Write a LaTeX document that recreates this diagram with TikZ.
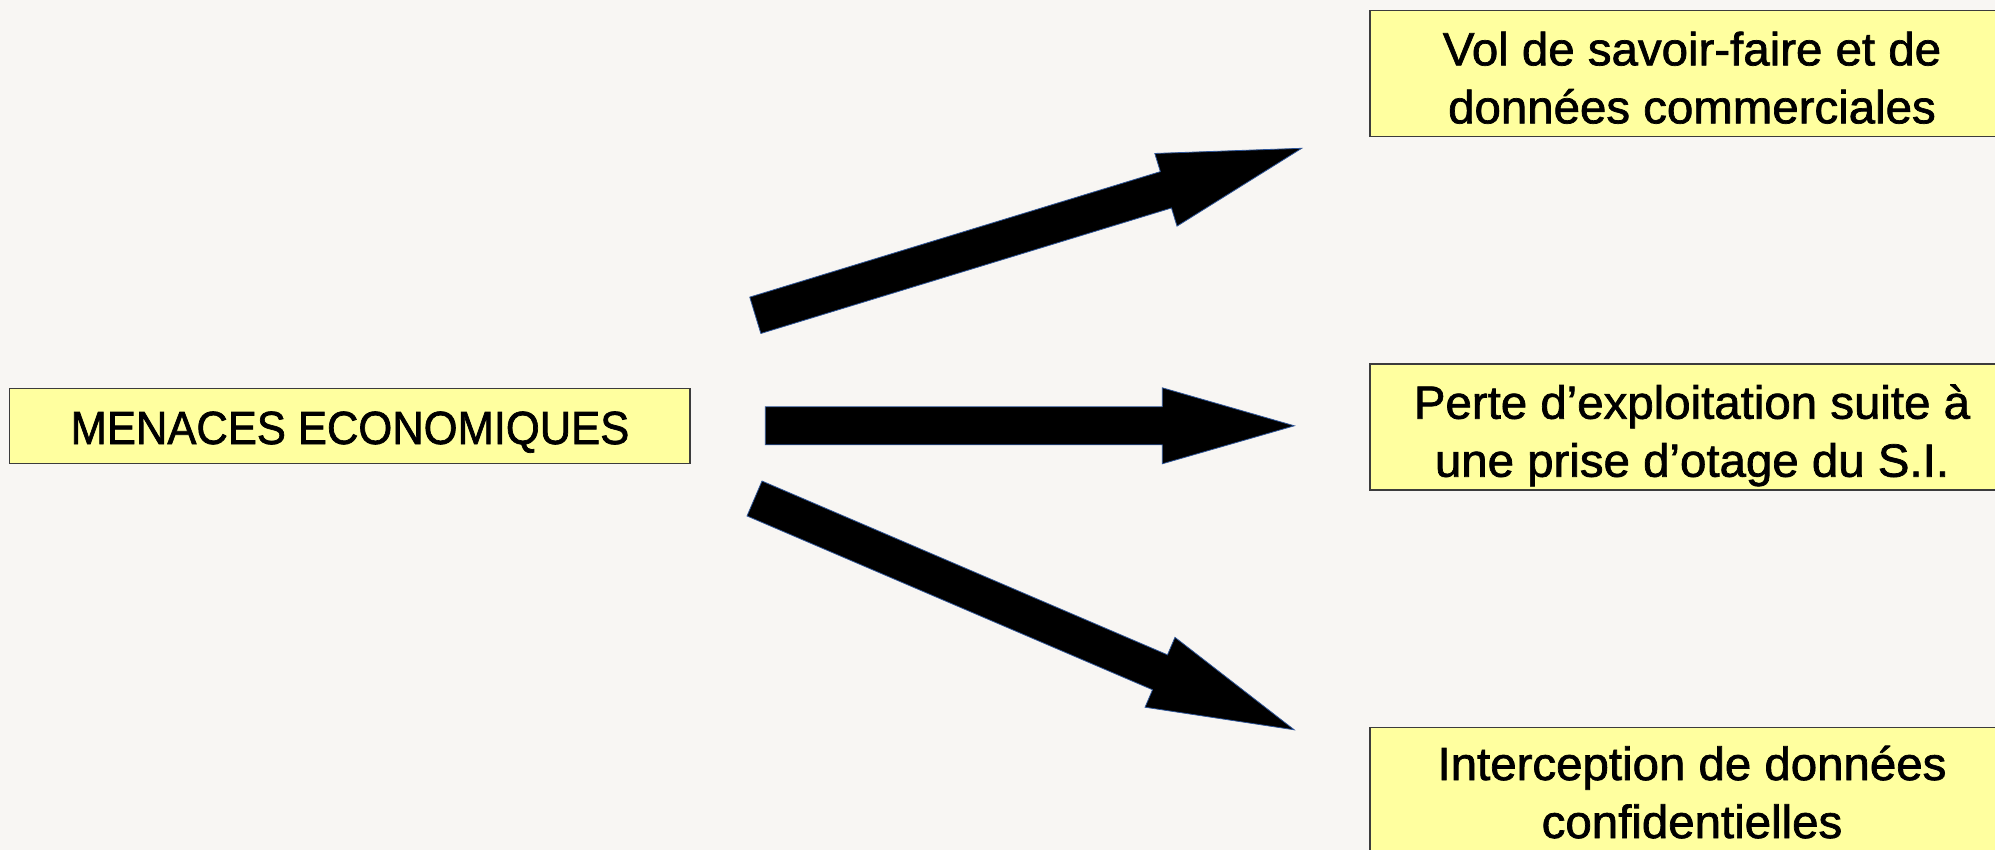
\documentclass[tikz,border=0pt]{standalone}
\usepackage{fontspec}
\setmainfont{Liberation Sans}[FakeStretch=1.02,FakeBold=1.5]
\newfontfamily\capsfont{Liberation Sans}[FakeStretch=0.936,FakeBold=1.5]
\usetikzlibrary{calc}
\definecolor{bgcol}{HTML}{F8F6F3}
\definecolor{boxfill}{HTML}{FFFF9F}
\definecolor{boxline}{HTML}{3C3C3C}
\definecolor{arrline}{HTML}{2F5597}
\tikzset{
  rbox/.style={draw=boxline, line width=1.3pt, fill=boxfill, rectangle, inner sep=0pt, minimum width=644pt, minimum height=126pt},
  lbox/.style={draw=boxline, line width=1.3pt, fill=boxfill, rectangle, inner sep=0pt, minimum width=680.5pt, minimum height=75pt},
  txt/.style={font=\fontsize{46.5}{58}\selectfont, align=center, inner sep=0pt, text=black},
  captxt/.style={txt, font=\capsfont\fontsize{46.5}{58}\selectfont},
  blockarr/.style={fill=black, draw=arrline, line width=0.8pt, line join=miter}
}
\newcommand{\blockarrow}[4]{%
  \coordinate (#1b) at ($(#3)!#4!(#2)$);
  \filldraw[blockarr] ($(#2)!19pt!90:(#3)$) -- ($(#1b)!19pt!-90:(#2)$) -- ($(#1b)!38pt!-90:(#2)$) -- (#3) -- ($(#1b)!38pt!90:(#2)$) -- ($(#1b)!19pt!90:(#2)$) -- ($(#2)!19pt!-90:(#3)$) -- cycle;}
\begin{document}
\begin{tikzpicture}[x=1pt,y=-1pt]
\useasboundingbox (0,0) rectangle (1995,850);
\clip (0,0) rectangle (1995,850);
\fill[bgcol] (0,0) rectangle (1995,850);

% boxes
\node[lbox] (menaces) at (349.7,425.8) {};
\node[rbox] (vol) at (1692,73.4) {};
\node[rbox] (perte) at (1692,427) {};
\node[rbox] (inter) at (1692,790.7) {};

% texts (base anchor = baseline of the last line)
\node[captxt, anchor=base] (menacesT) at (350,444) {MENACES ECONOMIQUES};
\node[txt, anchor=base] (volT) at (1692,123.3) {Vol de savoir-faire et de\\données commerciales};
\node[txt, anchor=base] (perteT) at (1692,476.7) {Perte d’exploitation suite à\\une prise d’otage du S.I.};
\node[txt, anchor=base] (interT) at (1692,838) {Interception de données\\confidentielles};

% arrows
\coordinate (t1) at (755.3,315.3);
\coordinate (h1) at (1301.7,148.3);
\coordinate (t2) at (765.3,425.8);
\coordinate (h2) at (1294.3,425.8);
\coordinate (t3) at (754.5,498.5);
\coordinate (h3) at (1294.2,729.8);
\blockarrow{a1}{t1}{h1}{142pt}
\blockarrow{a2}{t2}{h2}{132pt}
\blockarrow{a3}{t3}{h3}{146pt}
\end{tikzpicture}
\end{document}
